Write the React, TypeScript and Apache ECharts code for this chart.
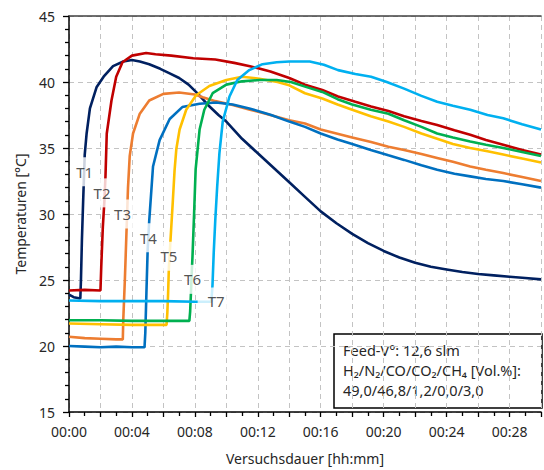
import React, { useEffect, useRef } from "react";
import * as echarts from "echarts";

// Temperature curves T1..T7: [minutes, °C]
const t1: number[][] = [
  [0, 23.9], [0.3, 23.7], [0.72, 23.6], [0.76, 25], [0.82, 28], [0.9, 31], [1.0, 34.5],
  [1.12, 36.1], [1.33, 38.0], [1.75, 39.6], [2.2, 40.4], [2.8, 41.2], [3.45, 41.55],
  [4.0, 41.67], [4.5, 41.55], [5.1, 41.35], [5.8, 41.0], [6.4, 40.65], [7.0, 40.3],
  [7.6, 39.8], [8.2, 39.1], [8.8, 38.3], [9.5, 37.5], [10.0, 37.0], [11.0, 35.7],
  [12.0, 34.6], [13.0, 33.5], [14.0, 32.4], [15.0, 31.3], [16.0, 30.2], [17.0, 29.3],
  [18.0, 28.5], [19.0, 27.8], [20.0, 27.2], [21.0, 26.7], [22.0, 26.3], [23.0, 26.0],
  [24.0, 25.8], [25.0, 25.6], [26.0, 25.45], [27.0, 25.35], [28.0, 25.25], [29.0, 25.15],
  [30, 25.05],
];
const t2: number[][] = [
  [0, 24.2], [1, 24.25], [2.0, 24.2], [2.05, 26], [2.15, 29], [2.25, 31], [2.32, 32.9],
  [2.4, 36.1], [2.7, 38.6], [3.0, 40.4], [3.4, 41.5], [4.0, 42.0], [4.9, 42.2],
  [5.5, 42.1], [6.5, 42.0], [7.9, 41.8], [9.3, 41.7], [10.5, 41.45], [11.5, 41.2],
  [12.8, 40.8], [14.0, 40.3], [15, 39.8], [16.1, 39.4], [17.1, 38.9], [18.2, 38.5],
  [19.2, 38.15], [20.3, 37.8], [21.3, 37.4], [22.4, 37.05], [23.4, 36.75], [24.5, 36.35],
  [25.5, 36.0], [26.5, 35.6], [27.6, 35.25], [28.8, 34.85], [30, 34.5],
];
const t3: number[][] = [
  [0, 20.7], [1, 20.6], [2, 20.55], [3, 20.5], [3.42, 20.5], [3.45, 22], [3.55, 25],
  [3.65, 28.5], [3.75, 32], [3.86, 34.4], [4.07, 36.1], [4.5, 37.6], [5.1, 38.6],
  [6.0, 39.1], [7.0, 39.2], [8.0, 39.05], [8.5, 38.85], [9.3, 38.55], [10.4, 38.25],
  [11.5, 37.9], [12.5, 37.6], [14, 37.1], [15, 36.85], [16, 36.4], [17, 36.1], [18, 35.8],
  [19.2, 35.45], [20.3, 35.1], [21.3, 34.85], [22.4, 34.55], [23.4, 34.25], [24.4, 33.95],
  [25.5, 33.6], [26.5, 33.35], [27.6, 33.1], [28.8, 32.8], [30, 32.5],
];
const t4: number[][] = [
  [0, 20.0], [1, 19.95], [2, 19.9], [3, 19.95], [4, 19.9], [4.8, 19.9], [4.85, 21],
  [4.92, 24], [5.0, 27.3], [5.1, 29.5], [5.34, 33.6], [5.76, 35.6], [6.4, 37.2],
  [7.2, 38.1], [8.3, 38.35], [9.35, 38.45], [10.4, 38.3], [11.46, 38.0], [12.85, 37.5],
  [14, 37.0], [15, 36.6], [16, 36.1], [17.07, 35.65], [18, 35.3], [19.18, 34.85],
  [20.3, 34.45], [21.3, 34.1], [22.4, 33.7], [23.4, 33.35], [24.5, 33.05], [25.5, 32.85],
  [26.5, 32.65], [27.6, 32.5], [28.8, 32.25], [30, 32.0],
];
const t5: number[][] = [
  [0, 21.7], [2, 21.65], [4, 21.6], [6.2, 21.6], [6.25, 22.5], [6.3, 24], [6.35, 26],
  [6.45, 28], [6.6, 31], [6.71, 33.3], [6.82, 34.9], [7.03, 36.4], [7.45, 37.9],
  [8.08, 39.0], [8.92, 39.7], [10, 40.15], [11, 40.4], [12.1, 40.25], [13.25, 40.0],
  [14, 39.75], [15, 39.15], [16.1, 38.75], [17.07, 38.3], [18, 37.9], [19.18, 37.4],
  [20.3, 37.0], [21.3, 36.6], [22.4, 36.1], [23.4, 35.7], [24.4, 35.3], [25.5, 35.0],
  [26.6, 34.75], [27.6, 34.5], [28.8, 34.2], [30, 33.9],
];
const t6: number[][] = [
  [0, 21.95], [2, 21.95], [4, 21.9], [6, 21.9], [7.65, 21.9], [7.7, 22.6], [7.75, 24],
  [7.8, 25.5], [7.85, 26.8], [7.95, 30], [8.05, 33.4], [8.3, 36.4], [8.6, 37.9],
  [9.13, 39.15], [10, 39.8], [11, 40.05], [12.1, 40.15], [13.2, 40.15], [14.1, 40.0],
  [15, 39.65], [16.1, 39.25], [17.07, 38.7], [18, 38.3], [19.18, 37.9], [20.3, 37.6],
  [21.3, 37.1], [22.4, 36.6], [23.4, 36.1], [24.4, 35.8], [25.5, 35.5], [26.5, 35.25],
  [27.6, 35.0], [28.8, 34.7], [30, 34.4],
];
const t7: number[][] = [
  [0, 23.45], [2, 23.4], [4, 23.4], [6, 23.4], [8, 23.35], [9.05, 23.35], [9.12, 24.6],
  [9.2, 27.1], [9.3, 29.6], [9.42, 32.1], [9.56, 34.6], [9.77, 37.0], [10.2, 38.9],
  [10.7, 40.15], [11.46, 40.9], [12.3, 41.35], [13.2, 41.5], [14, 41.55], [15.3, 41.55],
  [16.2, 41.3], [17.1, 40.9], [18.2, 40.6], [19.2, 40.4], [20.2, 40.0], [21.3, 39.5],
  [22.4, 38.95], [23.4, 38.5], [24.4, 38.2], [25.5, 37.9], [26.6, 37.5], [27.6, 37.25],
  [28.8, 36.8], [30, 36.4],
];

const seriesNames = ["T1", "T2", "T3", "T4", "T5", "T6", "T7"];
const seriesColors = ["#002060", "#C00000", "#ED7D31", "#0070C0", "#FFC000", "#00B050", "#00B0F0"];
const seriesData = [t1, t2, t3, t4, t5, t6, t7];

// Where each curve's name tag sits: [minutes, °C]
const tagPositions: number[][] = [
  [1.0, 33.2], [2.1, 31.6], [3.4, 30.0], [5.05, 28.2], [6.35, 26.8], [7.85, 25.05], [9.35, 23.4],
];

const xTicks = [0, 4, 8, 12, 16, 20, 24, 28];
const yRange = [15, 45];

const infoLines = ["Feed-V°: 12,6 slm", "H₂/N₂/CO/CO₂/CH₄ [Vol.%]:", "49,0/46,8/1,2/0,0/3,0"];

const FONT = "'Noto Sans', 'Open Sans', sans-serif";
const TEXT = "#262626";

function fmtTime(v: number): string {
  const h = Math.floor(v / 60);
  const m = Math.round(v % 60);
  return String(h).padStart(2, "0") + ":" + String(m).padStart(2, "0");
}

export default function App() {
  const ref = useRef<HTMLDivElement>(null);

  useEffect(() => {
    if (!ref.current) return;
    const chart = echarts.init(ref.current, undefined, { renderer: "svg" });

    const lineSeries = seriesData.map((d, i) => ({
      name: seriesNames[i],
      type: "line",
      data: d,
      showSymbol: false,
      symbol: "none",
      lineStyle: { color: seriesColors[i], width: 2.6 },
      z: 2 + i * 0.01,
    }));

    const tagSeries = {
      type: "scatter",
      symbolSize: 0,
      z: 10,
      silent: true,
      data: tagPositions.map((p, i) => ({
        value: [p[0], p[1], seriesNames[i]],
        label: {
          show: true,
          position: "inside",
          formatter: seriesNames[i],
          fontFamily: FONT,
          fontSize: 15,
          color: TEXT,
          backgroundColor: "#ffffff",
          padding: i === 6 ? [6, 10, 6, 10] : [7, 2, 7, 2],
        },
      })),
    };

    chart.setOption({
      animation: false,
      backgroundColor: "#ffffff",
      textStyle: { fontFamily: FONT },
      grid: { left: 69, top: 16, right: 0, bottom: 57, containLabel: false },
      xAxis: [
        {
          type: "value",
          min: 0,
          max: 30,
          interval: 2,
          name: "Versuchsdauer [hh:mm]",
          nameLocation: "middle",
          nameGap: 39,
          nameTextStyle: { fontFamily: FONT, fontSize: 14, color: TEXT },
          axisLine: { show: true, onZero: false, lineStyle: { color: "#000000", width: 1.5 } },
          axisTick: { show: true, length: 5, lineStyle: { color: "#000000", width: 1.3 } },
          minorTick: { show: true, splitNumber: 2, length: 4, lineStyle: { color: "#000000", width: 1.3 } },
          axisLabel: {
            margin: 12,
            fontFamily: FONT,
            fontSize: 14,
            color: TEXT,
            formatter: (v: number) => (xTicks.includes(v) ? fmtTime(v) : ""),
          },
          splitLine: { show: true, lineStyle: { color: "#c3c3c3", type: [5, 4], width: 1 } },
        },
        {
          type: "value",
          position: "top",
          min: 0,
          max: 30,
          axisLine: { show: true, lineStyle: { color: "#404040", width: 1.5 } },
          axisTick: { show: false },
          axisLabel: { show: false },
          splitLine: { show: false },
        },
      ],
      yAxis: {
        type: "value",
        min: yRange[0],
        max: yRange[1],
        interval: 5,
        name: "Temperaturen [°C]",
        nameLocation: "middle",
        nameGap: 42,
        nameTextStyle: { fontFamily: FONT, fontSize: 14, color: TEXT },
        axisLine: { show: true, onZero: false, lineStyle: { color: "#000000", width: 1.5 } },
        axisTick: { show: true, length: 6, lineStyle: { color: "#000000", width: 1.3 } },
        minorTick: { show: true, splitNumber: 5, length: 4, lineStyle: { color: "#000000", width: 1.3 } },
        axisLabel: { margin: 14, fontFamily: FONT, fontSize: 14, color: TEXT },
        splitLine: { show: true, lineStyle: { color: "#c3c3c3", type: [5, 4], width: 1 } },
      },
      series: [...lineSeries, tagSeries],
      graphic: [
        {
          type: "group",
          z: 100,
          children: [
            {
              type: "rect",
              shape: { x: 334, y: 334, width: 208, height: 74 },
              style: { fill: "#ffffff", stroke: "#000000", lineWidth: 1.5 },
            },
            ...infoLines.map((line, i) => ({
              type: "text",
              x: 343,
              y: 350 + i * 20,
              style: {
                text: line,
                fontFamily: FONT,
                fontSize: 14.5,
                fill: TEXT,
                verticalAlign: "middle",
                align: "left",
              },
            })),
          ],
        },
      ],
    });

    return () => chart.dispose();
  }, []);

  return (
    <div
      ref={ref}
      style={{ position: "fixed", left: 0, top: 0, width: 544, height: 470, background: "#fff" }}
    />
  );
}
